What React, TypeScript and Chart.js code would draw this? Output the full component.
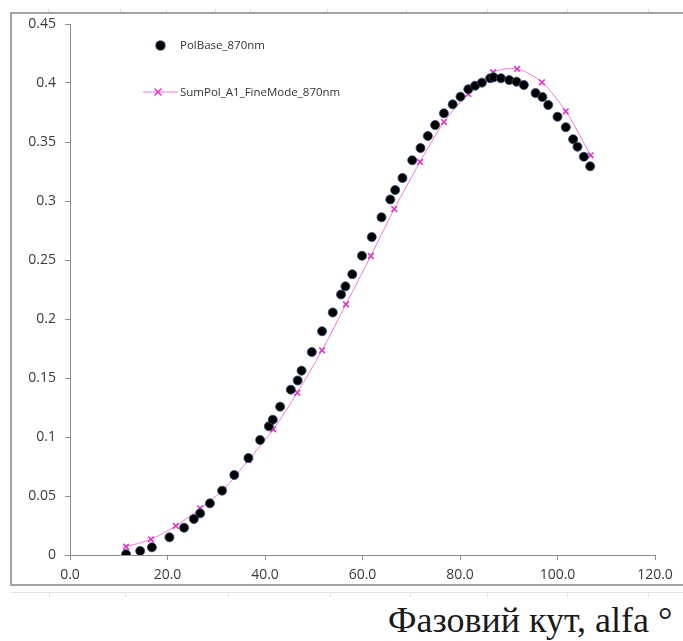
import React, { useEffect, useRef } from "react";
import { Chart, registerables } from "chart.js";

Chart.register(...registerables);

// PolBase_870nm (scattered black dots)
const polBaseX: number[] = [
  11.5, 14.4, 16.8, 20.4, 23.4, 25.4, 26.7, 28.7, 31.2, 33.7,
  36.6, 39.0, 40.8, 41.6, 43.1, 45.3, 46.7, 47.5, 49.6, 51.7,
  53.9, 55.6, 56.5, 57.9, 59.9, 61.9, 63.9, 65.7, 66.7, 68.2,
  70.2, 71.9, 73.4, 74.9, 76.7, 78.5, 80.1, 81.7, 83.1, 84.5,
  86.2, 86.9, 88.4, 90.1, 91.6, 93.1, 95.5, 96.9, 98.1, 100.0,
  101.7, 103.2, 104.1, 105.4, 106.7,
];
const polBaseY: number[] = [
  0.0006, 0.0034, 0.0065, 0.015, 0.0231, 0.0305, 0.0353, 0.0438, 0.0545, 0.0678,
  0.0822, 0.0975, 0.1091, 0.1147, 0.1257, 0.1401, 0.1479, 0.1562, 0.172, 0.1896,
  0.2055, 0.2208, 0.2277, 0.2379, 0.2536, 0.2695, 0.2862, 0.3013, 0.3093, 0.3195,
  0.3345, 0.3449, 0.3551, 0.3644, 0.3743, 0.3819, 0.3884, 0.3947, 0.3977, 0.4003,
  0.404, 0.4048, 0.404, 0.4025, 0.4011, 0.3983, 0.3915, 0.3881, 0.3814, 0.3714,
  0.3625, 0.3523, 0.346, 0.3375, 0.3294,
];

// SumPol_A1_FineMode_870nm (magenta line with crosses)
const sumPolX: number[] = [
  11.5, 16.6, 21.7, 26.7, 31.4, 36.6, 41.7, 46.6, 51.7, 56.6,
  61.7, 66.5, 71.8, 76.7, 81.7, 86.8, 91.7, 96.8, 101.7, 106.8,
];
const sumPolY: number[] = [
  0.007, 0.0133, 0.0246, 0.0396, 0.0551, 0.0805, 0.1065, 0.1375, 0.1735, 0.2125,
  0.2534, 0.2932, 0.3331, 0.3669, 0.3907, 0.4091, 0.4119, 0.4006, 0.376, 0.3387,
];

const seriesNames: string[] = ["PolBase_870nm", "SumPol_A1_FineMode_870nm"];
const axisTitle = "Фазовий кут, alfa °";

const W = 683;
const H = 641;
const CANVAS_H = 590;

export default function App() {
  const ref = useRef<HTMLCanvasElement | null>(null);

  useEffect(() => {
    document.body.style.margin = "0";
    document.body.style.overflow = "hidden";
    const canvas = ref.current;
    if (!canvas) return;
    const tickFont = { family: "'Open Sans'", size: 14 };
    const chart = new Chart(canvas, {
      type: "scatter",
      data: {
        datasets: [
          {
            label: seriesNames[0],
            data: polBaseX.map((x, i) => ({ x, y: polBaseY[i] })),
            showLine: false,
            pointRadius: 4.5,
            pointBackgroundColor: "#000000",
            pointBorderColor: "rgba(45,75,115,0.85)",
            pointBorderWidth: 1,
          },
          {
            label: seriesNames[1],
            data: sumPolX.map((x, i) => ({ x, y: sumPolY[i] })),
            showLine: true,
            borderColor: "#f07ada",
            borderWidth: 1,
            tension: 0.3,
            pointStyle: "crossRot",
            pointRadius: 4,
            pointBorderColor: "#e034c6",
            pointBorderWidth: 1.6,
            pointBackgroundColor: "#e034c6",
          },
        ],
      },
      options: {
        animation: false,
        responsive: false,
        devicePixelRatio: 1,
        layout: { padding: { top: 24, right: 28, left: 0, bottom: 0 } },
        plugins: { legend: { display: false }, tooltip: { enabled: false } },
        scales: {
          x: {
            type: "linear",
            min: 0,
            max: 120,
            afterFit: (s: any) => {
              s.height = CANVAS_H - 555;
            },
            ticks: {
              stepSize: 20,
              padding: 7,
              color: "#3a3a3a",
              font: tickFont,
              maxRotation: 0,
              callback: (v: any) => Number(v).toFixed(1),
            },
            grid: {
              drawOnChartArea: false,
              drawTicks: true,
              tickLength: 5,
              color: "#8a8a8a",
            },
            border: { display: true, color: "#8a8a8a", width: 1 },
          },
          y: {
            type: "linear",
            min: 0,
            max: 0.45,
            afterFit: (s: any) => {
              s.width = 70;
            },
            ticks: {
              stepSize: 0.05,
              padding: 9,
              color: "#3a3a3a",
              font: tickFont,
              callback: (v: any) => String(Number(Number(v).toFixed(2))),
            },
            grid: {
              drawOnChartArea: false,
              drawTicks: true,
              tickLength: 5,
              color: "#8a8a8a",
            },
            border: { display: true, color: "#8a8a8a", width: 1 },
          },
        },
      },
    } as any);
    return () => chart.destroy();
  }, []);

  const legendText: React.CSSProperties = {
    position: "absolute",
    left: 180,
    fontFamily: "'Open Sans'",
    fontSize: 11.5,
    lineHeight: "16px",
    color: "#333",
    whiteSpace: "nowrap",
  };

  const rulerTop = [48, 120, 166, 215, 250, 327, 406, 487, 567, 648];
  const rulerBottom = [49, 125, 228, 330, 410, 487, 567, 648];

  return (
    <div
      style={{
        position: "relative",
        width: W,
        height: H,
        overflow: "hidden",
        background: "#ffffff",
      }}
    >
      {/* faint page ruler marks */}
      {rulerTop.map((x) => (
        <div
          key={"t" + x}
          style={{ position: "absolute", left: x, top: 9, width: 1, height: 4, background: "#dcdcdc" }}
        />
      ))}
      <div
        style={{ position: "absolute", left: 11, top: 592, width: W - 11, height: 1, background: "#e2e2e2" }}
      />
      {rulerBottom.map((x) => (
        <div
          key={"b" + x}
          style={{ position: "absolute", left: x, top: 592, width: 1, height: 5, background: "#e2e2e2" }}
        />
      ))}
      {/* chart frame */}
      <div
        style={{
          position: "absolute",
          left: 10,
          top: 12,
          width: W,
          height: 574,
          border: "2px solid #a3a3a3",
          boxSizing: "border-box",
        }}
      />
      <canvas
        ref={ref}
        width={W}
        height={CANVAS_H}
        style={{ position: "absolute", left: 0, top: 0, width: W, height: CANVAS_H }}
      />
      {/* legend */}
      <div
        style={{
          position: "absolute",
          left: 155.5,
          top: 40.5,
          width: 9,
          height: 9,
          borderRadius: "50%",
          background: "#000",
          boxShadow: "0 0 0 1px rgba(45,75,115,0.6)",
        }}
      />
      <div style={{ ...legendText, top: 37 }}>{seriesNames[0]}</div>
      <svg
        width={40}
        height={12}
        style={{ position: "absolute", left: 140, top: 86 }}
      >
        <line x1={3} y1={6} x2={38} y2={6} stroke="#f07ada" strokeWidth={1} />
        <line x1={14.5} y1={2.5} x2={21.5} y2={9.5} stroke="#e034c6" strokeWidth={1.5} />
        <line x1={21.5} y1={2.5} x2={14.5} y2={9.5} stroke="#e034c6" strokeWidth={1.5} />
      </svg>
      <div style={{ ...legendText, top: 84 }}>{seriesNames[1]}</div>
      {/* axis title */}
      <div
        style={{
          position: "absolute",
          left: 388,
          top: 602,
          fontFamily: "'Liberation Serif', 'Times New Roman', serif",
          fontSize: 36,
          lineHeight: "36px",
          color: "#1a1a1a",
          whiteSpace: "nowrap",
        }}
      >
        {axisTitle}
      </div>
    </div>
  );
}
